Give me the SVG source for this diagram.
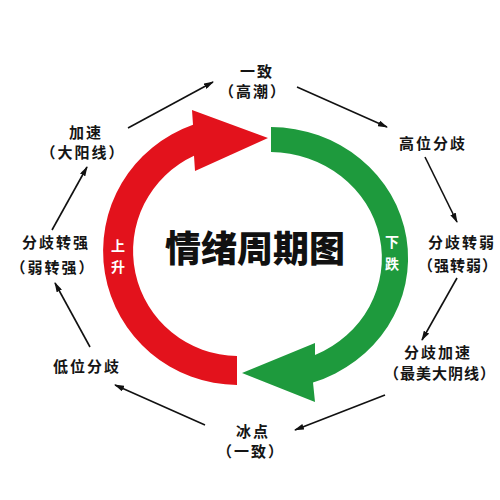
<svg xmlns="http://www.w3.org/2000/svg" width="500" height="500" viewBox="0 0 500 500">
<defs>
<style>
.lbl{font-family:"Noto Sans CJK SC","Noto Sans",sans-serif;font-size:15px;font-weight:700;fill:#151515;text-anchor:middle;letter-spacing:2px}
.tight{letter-spacing:1px}
.band{font-family:"Noto Sans CJK SC",sans-serif;font-size:14px;font-weight:700;fill:#fff;text-anchor:middle}
.title{font-family:"Noto Sans CJK SC",sans-serif;font-size:36px;font-weight:900;fill:#111;text-anchor:middle}
.con line{stroke:#111;stroke-width:1.6;marker-end:url(#ah)}
</style>
<marker id="ah" viewBox="0 0 10 6" refX="9" refY="3" markerWidth="10" markerHeight="6" markerUnits="userSpaceOnUse" orient="auto">
<path d="M0,0 L10,3 L0,6 z" fill="#111"/>
</marker>
</defs>
<rect width="500" height="500" fill="#fff"/>
<g id="red-arrow">
<path d="M237,385 A135,134 0 0 1 193,124.7 L192,110 L268,138 L195,171 L194,155.7 A105,105 0 0 0 237,356 Z" fill="#e3121c"/>
<text class="band" x="118" y="251">上</text>
<text class="band" x="118" y="272">升</text>
</g>
<g id="green-arrow">
<path d="M271,127 A138,131 0 0 1 313,382.5 L315,402 L242,373 L315,343 L315,355 A112,106 0 0 0 271,152 Z" fill="#1e9a3d"/>
<text class="band" x="392" y="247">下</text>
<text class="band" x="392" y="269">跌</text>
</g>
<g id="title"><text class="title" x="255" y="262">情绪周期图</text></g>
<g id="n-top"><text class="lbl" x="257" y="77">一致</text><text class="lbl" x="253" y="97">（高潮）</text></g>
<g id="n-gaowei"><text class="lbl" x="433" y="149">高位分歧</text></g>
<g id="n-ruo"><text class="lbl" x="462" y="248">分歧转弱</text><text class="lbl tight" x="458" y="271">（强转弱）</text></g>
<g id="n-jiasu-down"><text class="lbl" x="438" y="358">分歧加速</text><text class="lbl tight" x="440" y="379">（最美大阴线）</text></g>
<g id="n-bingdian"><text class="lbl" x="253" y="437">冰点</text><text class="lbl" x="251" y="457">（一致）</text></g>
<g id="n-diwei"><text class="lbl" x="87" y="372">低位分歧</text></g>
<g id="n-qiang"><text class="lbl" x="56" y="248">分歧转强</text><text class="lbl" x="53" y="273">（弱转强）</text></g>
<g id="n-jiasu-up"><text class="lbl" x="86" y="138">加速</text><text class="lbl" x="83" y="158">（大阳线）</text></g>
<g id="connectors" class="con">
<line x1="128" y1="128" x2="213" y2="82"/>
<line x1="297" y1="87" x2="387" y2="127"/>
<line x1="425" y1="157" x2="457" y2="222"/>
<line x1="457" y1="278" x2="422" y2="340"/>
<line x1="385" y1="395" x2="295" y2="430"/>
<line x1="205" y1="425" x2="115" y2="385"/>
<line x1="90" y1="347" x2="55" y2="283"/>
<line x1="52" y1="230" x2="87" y2="167"/>
</g>
</svg>
